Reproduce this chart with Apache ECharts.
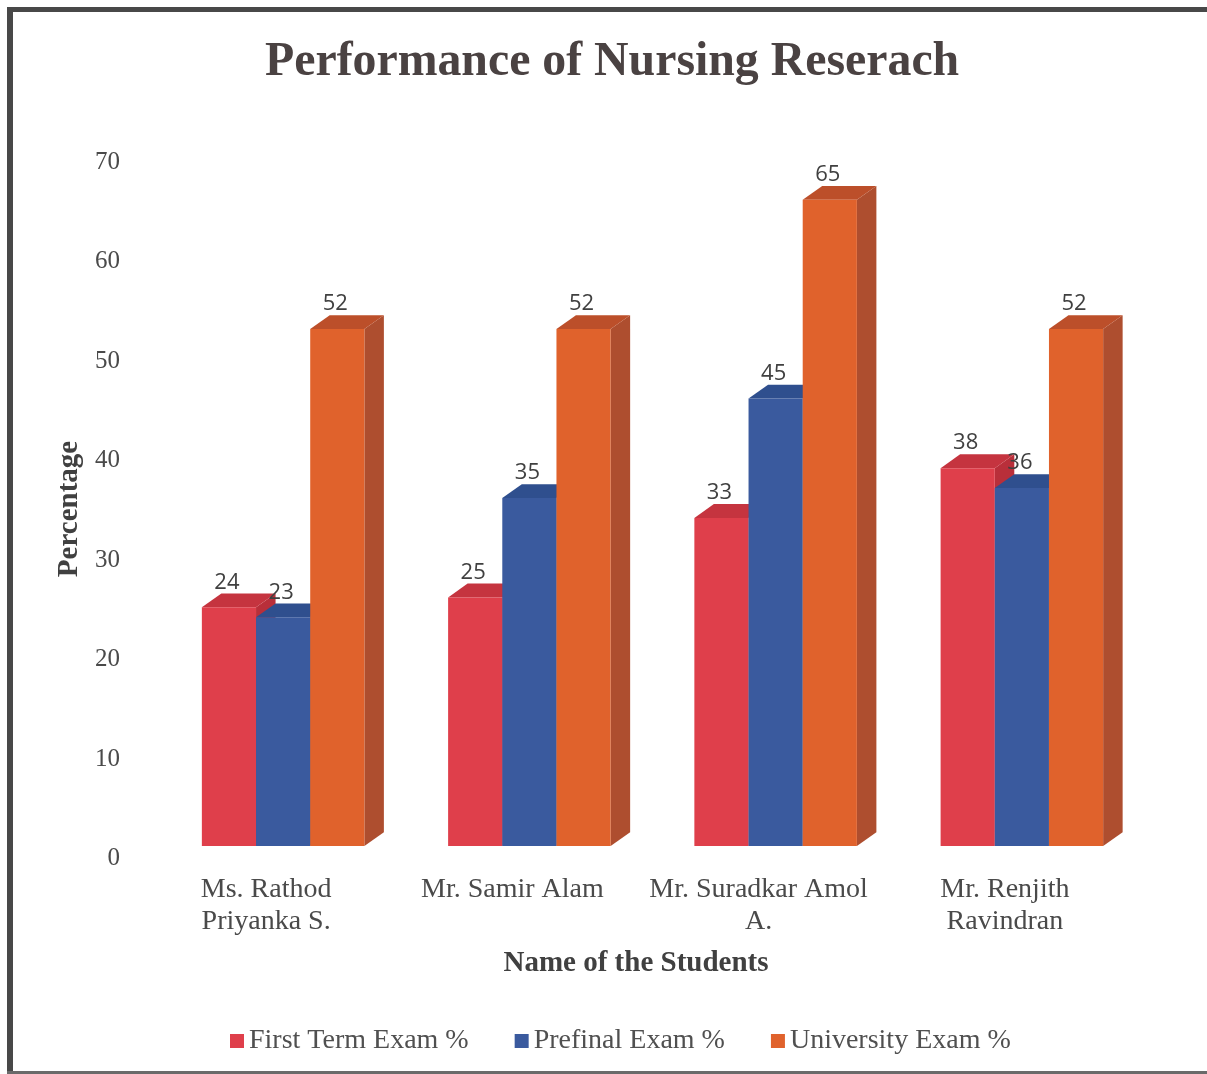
<!DOCTYPE html>
<html>
<head>
<meta charset="utf-8">
<style>html,body{margin:0;padding:0;background:#fff}#c{width:1207px;height:1074px}</style>
<script src="https://cdn.jsdelivr.net/npm/echarts@6/dist/echarts.min.js"></script>
</head>
<body>
<div id="c"></div>
<script>
const students = ['Ms. Rathod\nPriyanka S.', 'Mr. Samir Alam', 'Mr. Suradkar Amol\nA.', 'Mr. Renjith\nRavindran'];
const firstTerm = [24, 25, 33, 38];
const prefinal = [23, 35, 45, 36];
const university = [52, 52, 65, 52];
const yTicks = {min: 0, max: 70, interval: 10};

const seriesDefs = [
  {name: 'First Term Exam %', data: firstTerm, front: '#DF3F4B', top: '#C5343F', side: '#B92F3A'},
  {name: 'Prefinal Exam %', data: prefinal, front: '#3A5A9E', top: '#2F4F8E', side: '#2A4580'},
  {name: 'University Exam %', data: university, front: '#E0622C', top: '#BC4F2A', side: '#AE4E2F'}
];
const serif = '"Liberation Serif", "Times New Roman", serif';

function render3D(index, def) {
  return function (params, api) {
    const band = api.size([1, 0])[0];
    const w = band * 0.22;
    const dx = w * 0.36;
    const dy = w * 0.255;
    const p = api.coord([api.value(0), api.value(1)]);
    const base = api.coord([api.value(0), 0])[1];
    const x0 = p[0] - w * 1.5 + index * w;
    const x1 = x0 + w;
    const t = p[1];
    return {
      type: 'group',
      children: [
        {type: 'polygon', shape: {points: [[x1, t], [x1 + dx, t - dy], [x1 + dx, base - dy], [x1, base]]}, style: {fill: def.side}},
        {type: 'polygon', shape: {points: [[x0, t], [x0 + dx, t - dy], [x1 + dx, t - dy], [x1, t]]}, style: {fill: def.top}},
        {type: 'rect', shape: {x: x0, y: t, width: w, height: base - t}, style: {fill: def.front}},
        {type: 'text', z2: 10, style: {text: String(api.value(1)), x: (x0 + x1) / 2 - 2, y: t - 25, align: 'center', verticalAlign: 'middle', fill: '#404040', font: '22px "Open Sans", sans-serif'}}
      ]
    };
  };
}

const chart = echarts.init(document.getElementById('c'), null, {renderer: 'canvas'});
chart.setOption({
  animation: false,
  backgroundColor: '#fff',
  title: {
    text: 'Performance of Nursing Reserach',
    left: 260, top: 34,
    textStyle: {fontFamily: serif, fontWeight: 'bold', fontSize: 47.8, color: '#4A4242'}
  },
  legend: {
    left: 225, top: 1022,
    itemWidth: 14, itemHeight: 14, itemGap: 46, icon: 'rect',
    textStyle: {fontFamily: serif, fontSize: 28, color: '#505050'},
    data: seriesDefs.map(d => d.name)
  },
  grid: {left: 160, right: 62, top: 150, height: 696},
  xAxis: {
    type: 'category',
    data: students,
    name: 'Name of the Students',
    nameLocation: 'middle',
    nameGap: 103,
    nameTextStyle: {fontFamily: serif, fontWeight: 'bold', fontSize: 29, color: '#404040', padding: [0, 33, 0, 0]},
    axisLine: {show: false},
    axisTick: {show: false},
    axisLabel: {fontFamily: serif, fontSize: 28, color: '#4A4A4A', lineHeight: 32, margin: 28, padding: [0, 34, 0, 0], interval: 0}
  },
  yAxis: {
    type: 'value',
    min: yTicks.min, max: yTicks.max, interval: yTicks.interval,
    name: 'Percentage',
    nameLocation: 'middle',
    nameGap: 73,
    nameTextStyle: {fontFamily: serif, fontWeight: 'bold', fontSize: 29, color: '#404040', padding: [0, 22, 0, 0]},
    axisLine: {show: false},
    axisTick: {show: false},
    splitLine: {show: false},
    axisLabel: {fontFamily: serif, fontSize: 25, color: '#4A4A4A', margin: 40, verticalAlign: 'top'}
  },
  graphic: [
    {type: 'rect', silent: true, shape: {x: 7, y: 7, width: 6, height: 1067}, style: {fill: '#484848'}},
    {type: 'rect', silent: true, shape: {x: 7, y: 7, width: 1200, height: 5}, style: {fill: '#484848'}},
    {type: 'rect', silent: true, shape: {x: 7, y: 1071, width: 1200, height: 3}, style: {fill: '#6a6a6a'}}
  ],
  series: seriesDefs.map((d, i) => ({
    type: 'custom',
    name: d.name,
    itemStyle: {color: d.front},
    encode: {x: 0, y: 1},
    z: 2 + i,
    data: d.data.map((v, k) => [k, v]),
    renderItem: render3D(i, d)
  }))
});
</script>
</body>
</html>
